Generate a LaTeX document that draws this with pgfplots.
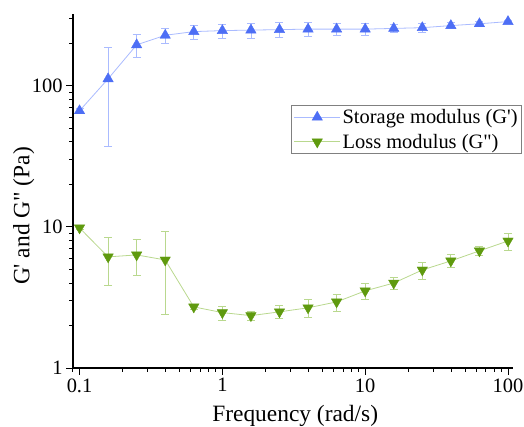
\documentclass[border=0pt]{standalone}
\usepackage{pgfplots}
\usepackage{pgfplotstable}
\pgfplotsset{compat=1.18}
\usepackage{fontspec}
\setmainfont{Liberation Serif}
\newfontfamily\tnr{Liberation Serif}
\definecolor{gblue}{HTML}{4D6EF5}
\definecolor{gbluel}{HTML}{AABBFF}
\definecolor{ggreen}{HTML}{5F9A0E}
\definecolor{ggreenl}{HTML}{B9D88E}

\pgfplotstableread{
x y e
0.1 66.5 3
0.1585 112 75
0.2512 195 36
0.3981 228 29
0.631 242 28
1 246 28
1.585 248 30
2.512 250 29
3.981 252 27
6.31 252 25
10 252 25
15.85 255 18
25.12 258 18
39.81 267 14
63.1 275 10
100 285 5
}\storage

\pgfplotstableread{
x y e
0.1 9.84 0.2
0.1585 6.13 2.3
0.2512 6.33 1.8
0.3981 5.83 3.45
0.631 2.71 0.1
1 2.47 0.28
1.585 2.35 0.18
2.512 2.5 0.27
3.981 2.67 0.4
6.31 2.94 0.41
10 3.52 0.48
15.85 4.0 0.4
25.12 4.95 0.68
39.81 5.74 0.6
63.1 6.76 0.5
100 7.95 1.1
}\loss

\begin{document}
\tnr
\begin{tikzpicture}[font=\tnr]
\begin{axis}[
 scale only axis, width=440bp, height=353.5bp,
 xmode=log, ymode=log,
 xmin=0.09, xmax=108.4, ymin=1, ymax=320,
 clip=false,
 axis x line*=bottom, axis y line*=left,
 axis line style={line width=1.3bp, black},
 tick align=outside,
 major tick length=7bp, minor tick length=4bp,
 every tick/.append style={black, line width=1bp},
 xtick={0.1,1,10,100}, xticklabels={\mbox{0.1},\mbox{1},\mbox{10},\mbox{100}},
 minor xtick={0.09,0.2,0.3,0.4,0.5,0.6,0.7,0.8,0.9,2,3,4,5,6,7,8,9,20,30,40,50,60,70,80,90},
 ytick={1,10,100}, yticklabels={\mbox{1},\mbox{10},\mbox{100}},
 minor ytick={2,3,4,5,6,7,8,9,20,30,40,50,60,70,80,90,200,300},
 ticklabel style={font=\tnr\fontsize{20.5}{24}\selectfont},
 label style={font=\tnr\fontsize{23.5}{28}\selectfont},
 xlabel={Frequency (rad/s)},
 ylabel={G\textquotesingle{} and G\textquotedbl{} (Pa)},
 ylabel style={at={(axis description cs:-0.112,0.430)}, anchor=center},
 xlabel style={at={(axis description cs:0.505,-0.150)}, anchor=base},
 legend style={at={(1.0205,0.744)}, anchor=north east, draw=gray, line width=0.8bp,
   font=\tnr\fontsize{20.5}{24}\selectfont, row sep=5bp, inner sep=2bp},
 legend cell align=left,
 legend image code/.code={\draw[mark repeat=2,mark phase=2] plot coordinates {(0bp,0bp)(23bp,0bp)(46bp,0bp)};},
]
\addplot[color=gbluel, line width=0.8bp, mark=triangle*, mark size=6bp,
  mark options={fill=gblue, draw=gblue, line width=0.4bp},
  error bars/.cd, y dir=both, y explicit,
  error bar style={gbluel, line width=0.8bp},
  error mark options={gbluel, mark size=4bp, line width=0.8bp, rotate=90}]
  table[x=x, y=y, y error=e]{\storage};
\addlegendentry{Storage modulus (G\textquotesingle)}
\addplot[color=ggreenl, line width=0.8bp, mark=triangle*, mark size=6bp,
  mark options={fill=ggreen, draw=ggreen, line width=0.4bp, rotate=180},
  error bars/.cd, y dir=both, y explicit,
  error bar style={ggreenl, line width=0.8bp},
  error mark options={ggreenl, mark size=4bp, line width=0.8bp, rotate=90}]
  table[x=x, y=y, y error=e]{\loss};
\addlegendentry{Loss modulus (G\textquotedbl)}
\end{axis}
\pgfresetboundingbox
\path ([shift={(-73bp,-59bp)}]current axis.south west) rectangle ([shift={(11bp,14.5bp)}]current axis.north east);
\end{tikzpicture}
\end{document}
